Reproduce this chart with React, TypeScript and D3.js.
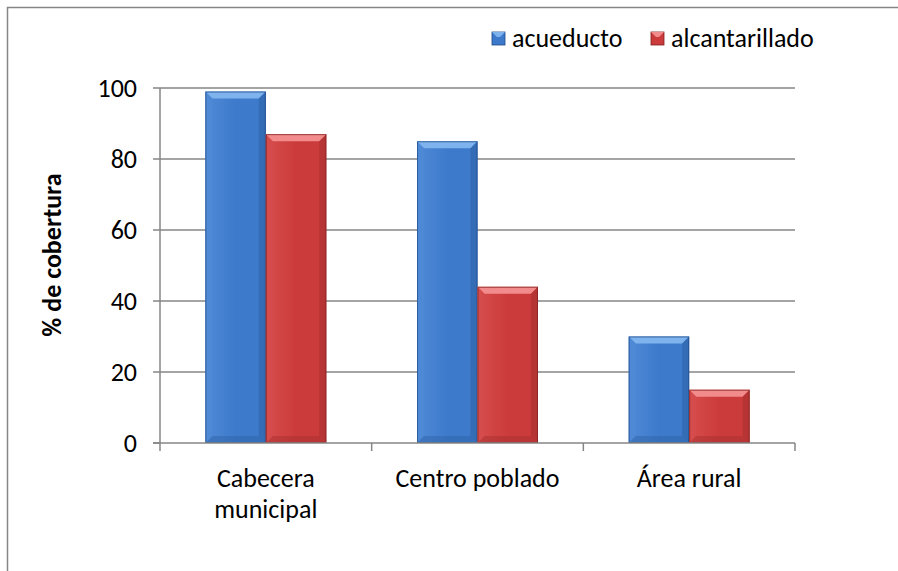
import React from "react";
import * as d3 from "d3";

const categories = ["Cabecera municipal", "Centro poblado", "Área rural"];
const categoryLines = [["Cabecera", "municipal"], ["Centro poblado"], ["Área rural"]];
const seriesNames = ["acueducto", "alcantarillado"];
const acueducto = [99, 85, 30];
const alcantarillado = [87, 44, 15];
const yTicks = [0, 20, 40, 60, 80, 100];

const W = 898;
const H = 571;
const plot = { left: 160, right: 795, top: 88, bottom: 443 };
const FONT = "Carlito, Calibri, 'Open Sans', sans-serif";

const palette = [
  { base: "#3d7acb", light: "#7fb3ee", mid: "#4f8ad6", dark: "#2f63a8", edge: "#1f4a85" },
  { base: "#cc3b3b", light: "#f28c8c", mid: "#d64d4d", dark: "#a83030", edge: "#7e1f1f" },
];

export default function App() {
  const x0 = d3.scaleBand<string>().domain(categories).range([plot.left, plot.right]).paddingInner(0).paddingOuter(0);
  const bw = x0.bandwidth() / 3.5;
  const x1 = d3.scaleBand<string>().domain(seriesNames).range([0, bw * 2]);
  const y = d3.scaleLinear().domain([0, 100]).range([plot.bottom, plot.top]);
  const data = [acueducto, alcantarillado];

  const bars: React.ReactNode[] = [];
  categories.forEach((c, ci) => {
    seriesNames.forEach((s, si) => {
      const v = data[si][ci];
      const xl = (x0(c) as number) + (x0.bandwidth() - bw * 2) / 2 + (x1(s) as number);
      const xr = xl + x1.bandwidth();
      const yt = y(v);
      const yb = y(0);
      const b = 7;
      const p = palette[si];
      const id = `g${ci}${si}`;
      bars.push(
        <g key={id}>
          <defs>
            <linearGradient id={id} x1="0" y1="0" x2="1" y2="0">
              <stop offset="0" stopColor={p.mid} />
              <stop offset="0.5" stopColor={p.base} />
              <stop offset="1" stopColor={p.base} />
            </linearGradient>
          </defs>
          <rect x={xl} y={yt} width={xr - xl} height={yb - yt} fill={`url(#${id})`} />
          <polygon points={`${xl},${yt} ${xr},${yt} ${xr - b},${yt + b} ${xl + b},${yt + b}`} fill={p.light} />
          <polygon points={`${xl},${yt} ${xl + b},${yt + b} ${xl + b},${yb - b} ${xl},${yb}`} fill={p.mid} opacity={0.6} />
          <polygon points={`${xr},${yt} ${xr},${yb} ${xr - b},${yb - b} ${xr - b},${yt + b}`} fill={p.dark} opacity={0.6} />
          <polygon points={`${xl},${yb} ${xr},${yb} ${xr - b},${yb - b} ${xl + b},${yb - b}`} fill={p.dark} opacity={0.5} />
          <rect x={xl + 0.5} y={yt + 0.5} width={xr - xl - 1} height={yb - yt - 1} fill="none" stroke={p.edge} strokeWidth={1} opacity={0.7} />
        </g>
      );
    });
  });

  const boundaries = [...categories.map((c) => x0(c) as number), plot.right];

  return (
    <svg width={W} height={H} style={{ display: "block", position: "absolute", left: 0, top: 0 }} fontFamily={FONT}>
      <rect x={0} y={0} width={W} height={H} fill="#ffffff" />
      <rect x={7.5} y={7.5} width={W + 20} height={H + 20} fill="none" stroke="#868686" strokeWidth={1.5} />
      {yTicks.map((t) => (
        <g key={t}>
          {t > 0 && <line x1={plot.left} x2={plot.right} y1={y(t)} y2={y(t)} stroke="#868686" strokeWidth={1.5} />}
          <line x1={plot.left - 7} x2={plot.left} y1={y(t)} y2={y(t)} stroke="#868686" strokeWidth={1.5} />
          <text x={137} y={y(t)} dy="0.35em" textAnchor="end" fontSize={26} fill="#000">{t}</text>
        </g>
      ))}
      {bars}
      <line x1={plot.left} x2={plot.left} y1={plot.top} y2={plot.bottom} stroke="#868686" strokeWidth={1.5} />
      <line x1={plot.left - 7} x2={plot.right} y1={plot.bottom} y2={plot.bottom} stroke="#868686" strokeWidth={1.5} />
      {boundaries.map((bx, i) => (
        <line key={i} x1={bx} x2={bx} y1={plot.bottom} y2={plot.bottom + 8} stroke="#868686" strokeWidth={1.5} />
      ))}
      {categories.map((c, ci) => {
        const cx = (x0(c) as number) + x0.bandwidth() / 2;
        return (
          <text key={c} x={cx} y={487} textAnchor="middle" fontSize={26} fill="#000">
            {categoryLines[ci].map((ln, li) => (
              <tspan key={li} x={cx} dy={li === 0 ? 0 : 31}>{ln}</tspan>
            ))}
          </text>
        );
      })}
      <text transform={`translate(61,255) rotate(-90)`} textAnchor="middle" fontSize={26} fontWeight="bold" fill="#000">% de cobertura</text>
      {seriesNames.map((s, si) => {
        const lx = si === 0 ? 492 : 651;
        const p = palette[si];
        return (
          <g key={s}>
            <rect x={lx} y={32} width={13} height={13} fill={p.base} stroke={p.edge} strokeWidth={0.8} />
            <polygon points={`${lx},${32} ${lx + 13},${32} ${lx + 8},${37} ${lx + 5},${37}`} fill={p.light} />
            <text x={lx + 20} y={47} fontSize={26} fill="#000">{s}</text>
          </g>
        );
      })}
    </svg>
  );
}
